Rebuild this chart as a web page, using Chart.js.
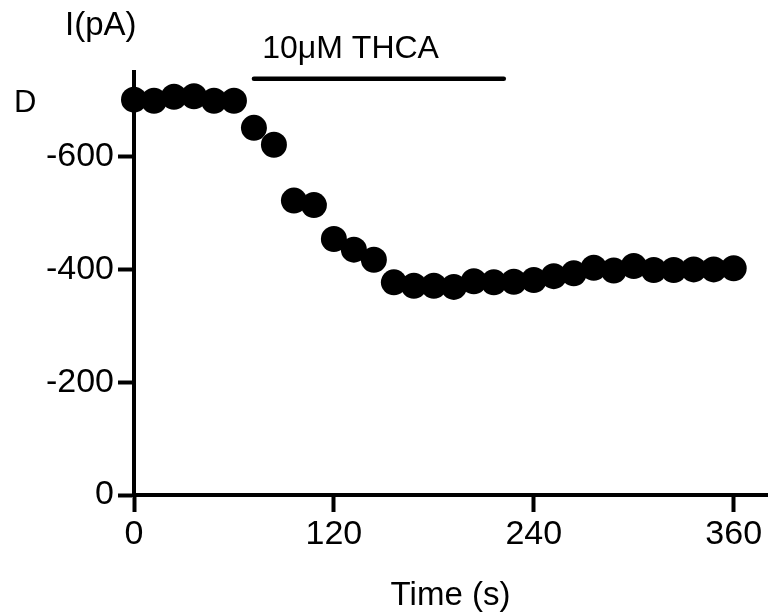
<!DOCTYPE html>
<html>
<head>
<meta charset="utf-8">
<script src="https://cdn.jsdelivr.net/npm/chart.js@4.4.1/dist/chart.umd.min.js"></script>
<style>
  html, body { margin: 0; padding: 0; background: #fff; }
  #wrap { width: 782px; height: 616px; }
</style>
</head>
<body>
<div id="wrap"><canvas id="c" width="782" height="616"></canvas></div>
<script>
// time points (s) and current magnitude (pA, plotted as negative on the axis)
const times = [0, 12, 24, 36, 48, 60, 72, 84, 96, 108, 120, 132, 144, 156, 168, 180,
  192, 204, 216, 228, 240, 252, 264, 276, 288, 300, 312, 324, 336, 348, 360];
const current = [701, 699, 706, 707, 699, 699, 651, 621, 522, 514, 454, 435, 417, 377, 371, 371,
  369, 379, 377, 378, 381, 388, 393, 403, 398, 406, 399, 399, 400, 400, 402];
const drugLabel = '10\u03bcM THCA';
const drugStart = 72;
const drugEnd = 222;
const drugLevel = 738;
const xTicks = [0, 120, 240, 360];
const yTicks = [0, 200, 400, 600];

const FONT = 'Arial, "Liberation Sans", Helvetica, sans-serif';

const points = times.map((t, i) => ({ x: t, y: current[i] }));

// text that sits outside the axes
const labelsPlugin = {
  id: 'labels',
  afterDraw(chart) {
    const ctx = chart.ctx;
    const xs = chart.scales.x;
    ctx.save();
    ctx.fillStyle = '#000';
    ctx.textBaseline = 'alphabetic';
    ctx.textAlign = 'left';
    ctx.font = '33px ' + FONT;
    ctx.fillText('I(pA)', 65, 35);
    ctx.font = '31px ' + FONT;
    ctx.fillText('D', 14, 112);
    ctx.font = '32px ' + FONT;
    ctx.fillText(drugLabel, xs.getPixelForValue(drugStart + 5), 58);
    ctx.restore();
  }
};

new Chart(document.getElementById('c'), {
  type: 'scatter',
  data: {
    datasets: [
      {
        data: points,
        showLine: false,
        pointRadius: 13,
        pointHoverRadius: 13,
        pointBackgroundColor: '#000',
        pointBorderWidth: 0,
        clip: false
      },
      {
        data: [{ x: drugStart, y: drugLevel }, { x: drugEnd, y: drugLevel }],
        showLine: true,
        borderColor: '#000',
        borderWidth: 4.5,
        borderCapStyle: 'round',
        pointRadius: 0,
        clip: false
      }
    ]
  },
  options: {
    responsive: false,
    animation: false,
    layout: { padding: { top: 72, right: 15, left: 0, bottom: 0 } },
    plugins: { legend: { display: false }, tooltip: { enabled: false } },
    scales: {
      x: {
        type: 'linear',
        min: 0,
        max: 380,
        afterFit(s) { s.height = 121; },
        afterBuildTicks(s) { s.ticks = xTicks.map(v => ({ value: v })); },
        ticks: { color: '#000', font: { family: FONT, size: 34 }, padding: 2, maxRotation: 0 },
        grid: { drawOnChartArea: false, drawTicks: true, tickLength: 17, tickWidth: 4, color: '#000' },
        border: { display: true, width: 4, color: '#000' },
        title: { display: true, text: 'Time (s)', color: '#000', font: { family: FONT, size: 33 }, padding: { top: 0, bottom: 0 } }
      },
      y: {
        type: 'linear',
        min: 0,
        max: 750,
        afterFit(s) { s.width = 134; },
        afterBuildTicks(s) { s.ticks = yTicks.map(v => ({ value: v })); },
        ticks: { color: '#000', font: { family: FONT, size: 34 }, padding: 4, callback: v => v === 0 ? '0' : '-' + v },
        grid: { drawOnChartArea: false, drawTicks: true, tickLength: 16, tickWidth: 4, color: '#000' },
        border: { display: true, width: 4, color: '#000' }
      }
    }
  },
  plugins: [labelsPlugin]
});
</script>
</body>
</html>
